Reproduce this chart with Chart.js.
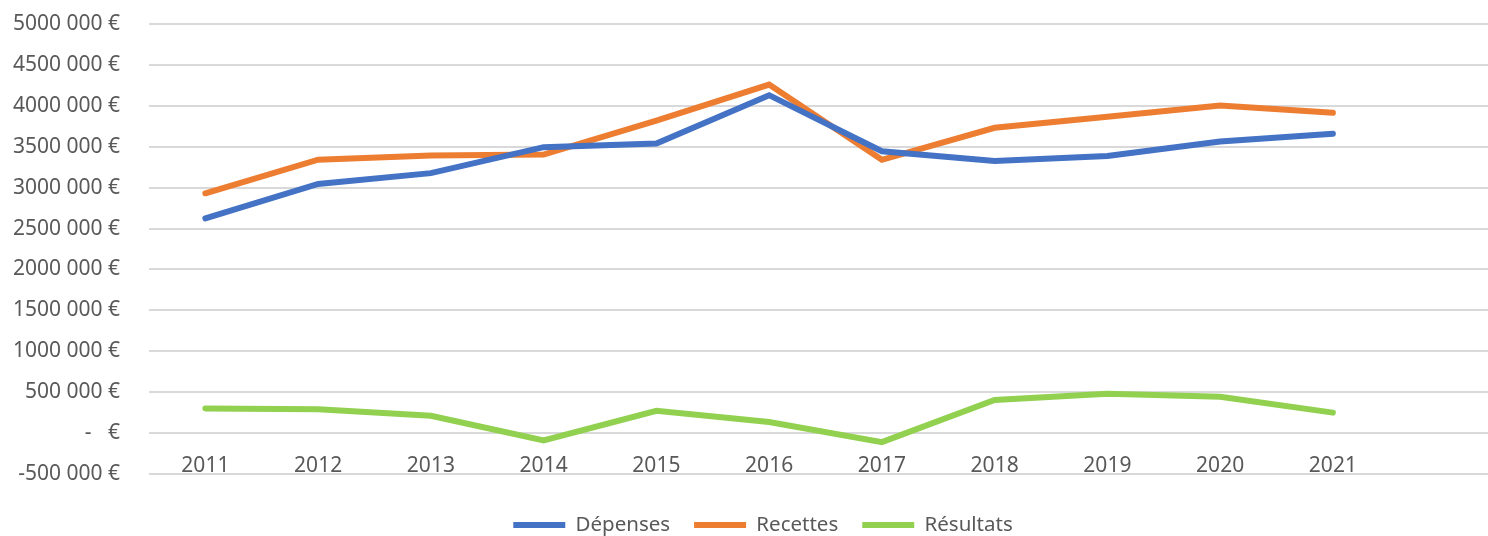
<!DOCTYPE html>
<html>
<head>
<meta charset="utf-8">
<script src="https://cdn.jsdelivr.net/npm/chart.js@4.4.1/dist/chart.umd.min.js"></script>
<style>
html,body{margin:0;padding:0;background:#fff;overflow:hidden;}
#wrap{width:1488px;height:536px;overflow:hidden;}
</style>
</head>
<body>
<div id="wrap"><canvas id="c" width="1502" height="536"></canvas></div>
<script>
const years = ['2011','2012','2013','2014','2015','2016','2017','2018','2019','2020','2021',''];
const depenses = [2625000, 3045000, 3177000, 3495000, 3540000, 4130000, 3445000, 3326000, 3387000, 3565000, 3659000];
const recettes = [2931000, 3341000, 3394000, 3405000, 3820000, 4260000, 3340000, 3732000, 3866000, 4005000, 3915000];
const resultats = [302000, 292000, 211000, -90000, 273000, 136000, -110000, 405000, 482000, 445000, 250000];
const yMin = -500000, yMax = 5000000, yStep = 500000;

function fmt(v){
  if (v === 0) return '-   €';
  const a = Math.abs(v);
  const th = Math.floor(a/1000), rest = a % 1000;
  return (v<0?'-':'') + th + ' ' + String(rest).padStart(3,'0') + ' €';
}

const FONT = "'Noto Sans', 'Open Sans', sans-serif";
const TXT = '#595959';

new Chart(document.getElementById('c'), {
  type: 'line',
  data: {
    labels: years,
    datasets: [
      {label:'Dépenses', data: depenses, borderColor:'#4472C4', backgroundColor:'#4472C4'},
      {label:'Recettes', data: recettes, borderColor:'#ED7D31', backgroundColor:'#ED7D31'},
      {label:'Résultats', data: resultats, borderColor:'#92D050', backgroundColor:'#92D050'}
    ].map(d => Object.assign(d, {borderWidth:6, pointRadius:0, pointHoverRadius:0, tension:0, borderCapStyle:'round', borderJoinStyle:'miter', fill:false}))
  },
  options: {
    responsive:false,
    animation:false,
    layout:{padding:{top:24, right:-24, left:0, bottom:-9.25}},
    plugins:{
      tooltip:{enabled:false},
      legend:{
        position:'bottom',
        title:{display:true, text:'', padding:{top:16.75, bottom:0}, font:{size:1, lineHeight:0}},
        labels:{
          usePointStyle:true, pointStyle:'line', pointStyleWidth:52,
          color:TXT, font:{family:FONT, size:20.5}, padding:24
        }
      }
    },
    scales:{
      x:{
        type:'category',
        position:{y:0},
        offset:true,
        grid:{display:false, drawTicks:false},
        border:{display:false},
        ticks:{color:TXT, font:{family:FONT, size:21}, padding:20, maxRotation:0, autoSkip:false}
      },
      y:{
        min:yMin, max:yMax,
        grid:{color:'#d9d9d9', lineWidth:2, drawTicks:false},
        border:{display:false},
        ticks:{stepSize:yStep, color:TXT, font:{family:FONT, size:21}, padding:29, callback:(v)=>fmt(v)},
        afterFit:(s)=>{ s.width = 149; s.paddingTop = 0; s.paddingBottom = 0; }
      }
    }
  }
});
</script>
</body>
</html>
